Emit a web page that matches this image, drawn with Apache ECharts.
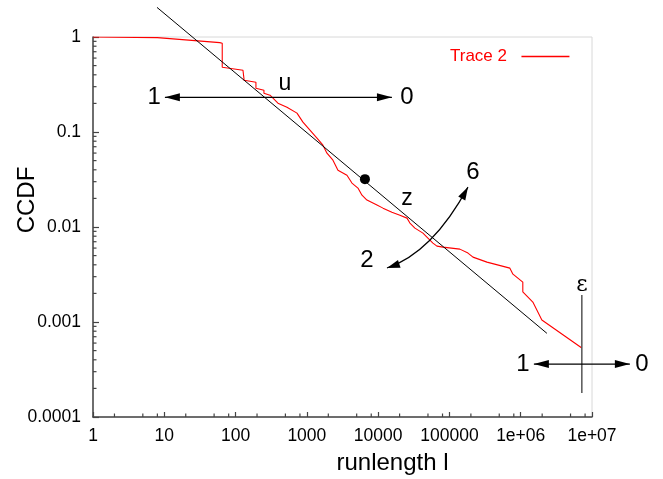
<!DOCTYPE html>
<html>
<head>
<meta charset="utf-8">
<script src="https://cdn.jsdelivr.net/npm/echarts@6/dist/echarts.min.js"></script>
<style>
html, body { margin: 0; padding: 0; background: #fff; }
#chart { width: 663px; height: 479px; }
</style>
</head>
<body>
<div id="chart"></div>
<script>
// Empirical CCDF of run lengths (Trace 2)
const runlength = [1, 8, 60, 65, 65, 127, 132, 193, 193, 250, 250, 304, 393, 526, 727, 881, 1105, 1386, 1682, 1914,
  2323, 2730, 3650, 4290, 5210, 5930, 6960, 9620, 11700, 15600, 20200, 25400, 27900, 32800, 42500, 49900, 58700,
  66800, 81100, 140000, 182000, 214000, 336000, 705000, 778000, 1070000, 1070000, 1480000, 1980000, 7200000];
const ccdf = [1, 0.985, 0.873, 0.86, 0.48, 0.447, 0.35, 0.334, 0.289, 0.275, 0.256, 0.244, 0.201, 0.182, 0.158,
  0.127, 0.1045, 0.086, 0.0727, 0.0598, 0.0505, 0.0396, 0.0351, 0.029, 0.0257, 0.0216, 0.0192, 0.017, 0.0158,
  0.0143, 0.0133, 0.0124, 0.011, 0.00973, 0.00862, 0.00764, 0.00677, 0.00629, 0.00614, 0.00585, 0.00531, 0.00482,
  0.00427, 0.00369, 0.00319, 0.00263, 0.00207, 0.00162, 0.00105, 0.000533];

// Power-law reference line and the marked point on it
const fitX = [7.9, 2330000];
const fitY = [2.05, 0.00076];
const markX = [6530];
const markY = [0.0319];

// Axis tick labels, one per decade
const xTickLabels = ['1', '10', '100', '1000', '10000', '100000', '1e+06', '1e+07'];
const yTickLabels = ['0.0001', '0.001', '0.01', '0.1', '1'];
const xMinorMultipliers = [2, 5, 8];
const yMinorMultipliers = [2, 3, 4, 5, 6, 7, 8, 9];

// Annotation anchors in data coordinates
const uArrow = { from: [10.2, 0.232], to: [15600, 0.232], left: [7.2, 0.232], right: [25300, 0.232], name: [490, 0.326] };
const zLabel = [25300, 0.0201];
const zCurve = { start: [13300, 0.0037], ctrl: [57800, 0.00538], end: [182000, 0.0263], low: [6960, 0.00448], high: [214000, 0.0378] };
const epsMark = { x: 7200000, top: 0.00192, bottom: 0.000179, label: 0.00245, arrowY: 0.000361,
  from: 1530000, to: 34000000, left: 1070000, right: 50000000 };

const X_MIN = 1, X_MAX = 1e7, Y_MIN = 1e-4, Y_MAX = 1;
const FONT = 'Liberation Sans, Arial, Helvetica, sans-serif';
const AXIS_COLOR = '#444';

const minorTickData = [];
for (let e = 0; e < 7; e++) {
  xMinorMultipliers.forEach(m => minorTickData.push([m * Math.pow(10, e), Y_MIN, 0]));
}
for (let e = -4; e < 0; e++) {
  yMinorMultipliers.forEach(m => minorTickData.push([X_MIN, m * Math.pow(10, e), 1]));
}

function arrowHead(tip, from, len, half) {
  const dx = tip[0] - from[0], dy = tip[1] - from[1];
  const d = Math.hypot(dx, dy);
  const ux = dx / d, uy = dy / d;
  const bx = tip[0] - ux * len, by = tip[1] - uy * len;
  return {
    type: 'polygon',
    shape: { points: [tip, [bx - uy * half, by + ux * half], [bx + uy * half, by - ux * half]] },
    style: { fill: '#000' }
  };
}

function label(p, text, size, family) {
  return {
    type: 'text',
    x: p[0], y: p[1],
    style: { text: text, fill: '#000', font: size + 'px ' + (family || FONT), align: 'center', verticalAlign: 'middle' }
  };
}

function doubleArrow(a, b) {
  return [
    { type: 'line', shape: { x1: a[0], y1: a[1], x2: b[0], y2: b[1] }, style: { stroke: '#000', lineWidth: 1.2 } },
    arrowHead(a, b, 15, 4),
    arrowHead(b, a, 15, 4)
  ];
}

function renderAnnotations(params, api) {
  const c = v => api.coord(v);
  const children = [];
  // u: horizontal double arrow
  children.push(...doubleArrow(c(uArrow.from), c(uArrow.to)));
  children.push(label(c(uArrow.left), '1', 24));
  children.push(label(c(uArrow.right), '0', 24));
  children.push(label(c(uArrow.name), 'u', 23));
  // z: curved double arrow
  const s = c(zCurve.start), k = c(zCurve.ctrl), e = c(zCurve.end);
  children.push({ type: 'bezierCurve', shape: { x1: s[0], y1: s[1], cpx1: k[0], cpy1: k[1], x2: e[0], y2: e[1] },
    style: { stroke: '#000', lineWidth: 1.2, fill: null } });
  children.push(arrowHead(s, k, 13, 4));
  children.push(arrowHead(e, k, 13, 4));
  children.push(label(c(zLabel), 'z', 23));
  children.push(label(c(zCurve.low), '2', 24));
  children.push(label(c(zCurve.high), '6', 24));
  // epsilon: vertical bar with horizontal double arrow
  const et = c([epsMark.x, epsMark.top]), eb = c([epsMark.x, epsMark.bottom]);
  children.push({ type: 'line', shape: { x1: et[0], y1: et[1], x2: eb[0], y2: eb[1] }, style: { stroke: '#555', lineWidth: 1.5 } });
  children.push(label(c([epsMark.x, epsMark.label]), 'ε', 22, 'DejaVu Serif, serif'));
  children.push(...doubleArrow(c([epsMark.from, epsMark.arrowY]), c([epsMark.to, epsMark.arrowY])));
  children.push(label(c([epsMark.left, epsMark.arrowY]), '1', 24));
  children.push(label(c([epsMark.right, epsMark.arrowY]), '0', 24));
  return { type: 'group', children: children };
}

function renderMinorTick(params, api) {
  const p = api.coord([api.value(0), api.value(1)]);
  const horizontalAxis = api.value(2) === 0;
  const len = 3.5;
  return {
    type: 'line',
    shape: horizontalAxis
      ? { x1: p[0], y1: p[1], x2: p[0], y2: p[1] - len }
      : { x1: p[0], y1: p[1], x2: p[0] + len, y2: p[1] },
    style: { stroke: AXIS_COLOR, lineWidth: 1.2 }
  };
}

const chart = echarts.init(document.getElementById('chart'), null, { renderer: 'canvas' });

chart.setOption({
  animation: false,
  backgroundColor: '#fff',
  textStyle: { fontFamily: FONT },
  grid: { left: 93, right: 71, top: 37, bottom: 62, show: true, borderColor: '#d8d8d8', borderWidth: 1,
    backgroundColor: 'transparent', containLabel: false, outerBoundsMode: 'none' },
  legend: {
    data: [{ name: 'Trace 2', icon: 'rect' }],
    left: 445, top: 43,
    align: 'right',
    itemWidth: 48, itemHeight: 1.5,
    formatter: n => n + '  ',
    textStyle: { color: '#ff0000', fontSize: 17, fontFamily: FONT },
    selectedMode: false
  },
  xAxis: {
    type: 'log', logBase: 10, min: X_MIN, max: X_MAX,
    name: 'runlength l', nameLocation: 'middle', nameGap: 34, nameMoveOverlap: false,
    nameTextStyle: { fontSize: 24, color: '#000', fontFamily: FONT, padding: [0, 0, 0, 100] },
    axisLine: { lineStyle: { color: AXIS_COLOR, width: 1.5 } },
    axisTick: { inside: true, length: 5, lineStyle: { color: AXIS_COLOR, width: 1.2 } },
    axisLabel: { fontSize: 17.5, color: '#000', margin: 10, fontFamily: FONT,
      formatter: v => xTickLabels[Math.round(Math.log10(v))] },
    splitLine: { show: false }
  },
  yAxis: {
    type: 'log', logBase: 10, min: Y_MIN, max: Y_MAX,
    name: 'CCDF', nameLocation: 'middle', nameGap: 54, nameMoveOverlap: false,
    nameTextStyle: { fontSize: 24, color: '#000', fontFamily: FONT, padding: [0, 0, 0, 54] },
    axisLine: { lineStyle: { color: AXIS_COLOR, width: 1.5 } },
    axisTick: { inside: true, length: 6, lineStyle: { color: AXIS_COLOR, width: 1.2 } },
    axisLabel: { fontSize: 17.5, color: '#000', margin: 12, fontFamily: FONT,
      formatter: v => yTickLabels[Math.round(Math.log10(v)) + 4] },
    splitLine: { show: false }
  },
  series: [
    {
      type: 'custom', name: 'minor ticks', silent: true, clip: false, z: 5,
      encode: { x: 0, y: 1 },
      renderItem: renderMinorTick,
      data: minorTickData
    },
    {
      type: 'line', name: 'Trace 2', symbol: 'none', color: '#ff0000',
      lineStyle: { color: '#ff0000', width: 1.1 },
      itemStyle: { color: '#ff0000' },
      data: runlength.map((x, i) => [x, ccdf[i]]),
      z: 3
    },
    {
      type: 'line', name: 'fit', symbol: 'none', clip: false, color: '#000',
      lineStyle: { color: '#000', width: 1 },
      data: fitX.map((x, i) => [x, fitY[i]]),
      z: 4
    },
    {
      type: 'scatter', name: 'point', symbol: 'circle', symbolSize: 10,
      itemStyle: { color: '#000', opacity: 1 },
      data: markX.map((x, i) => [x, markY[i]]),
      z: 6
    },
    {
      type: 'custom', name: 'annotations', silent: true, clip: false, z: 7,
      encode: { x: 0, y: 1 },
      renderItem: renderAnnotations,
      data: [[X_MIN, Y_MAX]]
    }
  ]
});
</script>
</body>
</html>
